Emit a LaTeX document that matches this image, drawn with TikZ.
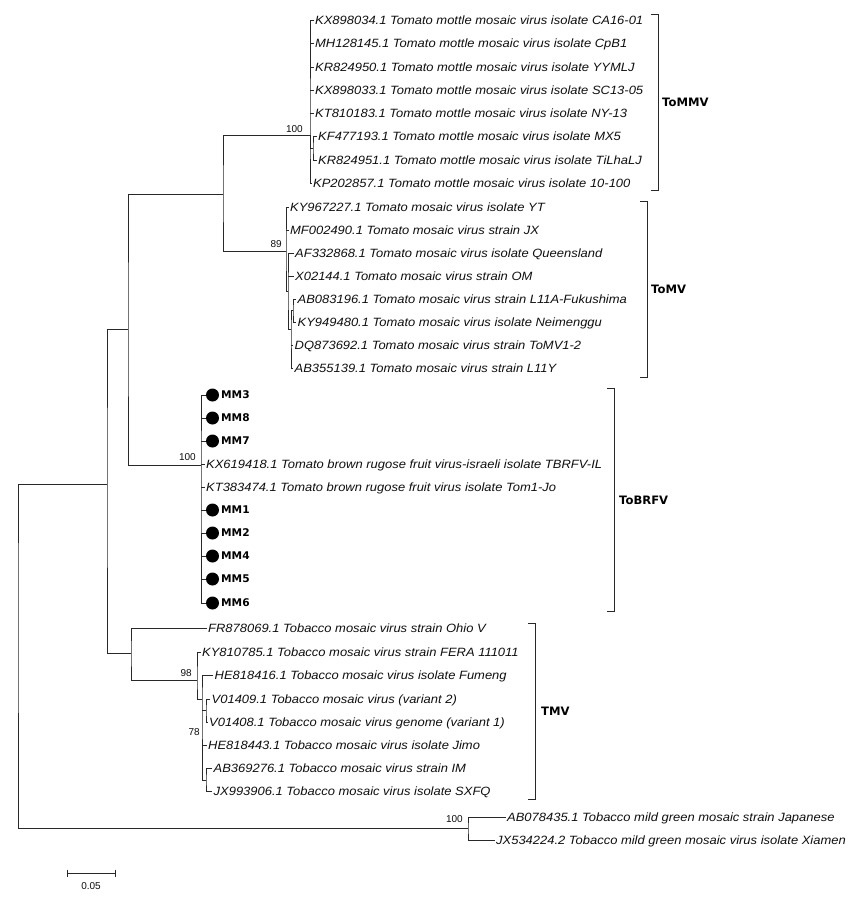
\documentclass[tikz,border=0pt]{standalone}
\usepackage{fontspec}
\setmainfont{Liberation Sans}
\newfontfamily\leaffont{Liberation Sans}[FakeStretch=1.08]
\newfontfamily\vfont{DejaVu Sans}
\definecolor{ln}{RGB}{40,40,40}
\definecolor{tx}{RGB}{15,15,15}
\tikzset{
  br/.style={draw=ln, line width=0.85pt},
  leaf/.style={anchor=west, inner xsep=1.5pt, inner ysep=0pt, text height=8.5pt, text depth=0pt, font=\leaffont\fontsize{12}{14}\selectfont\itshape, text=tx},
  mmdot/.style={circle, fill=black, minimum size=13pt, inner sep=0pt},
  mmlab/.style={anchor=west, inner xsep=0pt, inner ysep=0pt, text height=7.6pt, text depth=0pt, font=\vfont\bfseries\fontsize{10.6}{12}\selectfont, text=black},
  boot/.style={anchor=east, inner sep=0pt, text height=7.2pt, text depth=0pt, font=\fontsize{10}{12}\selectfont, text=tx},
  clade/.style={anchor=west, inner sep=0pt, text height=8.3pt, text depth=0pt, font=\vfont\bfseries\fontsize{11.6}{13}\selectfont, text=black},
  bracket/.style={draw=ln, line width=0.85pt}
}
\begin{document}
\begin{tikzpicture}[x=1pt,y=-1pt]
\useasboundingbox[fill=white] (0,0) rectangle (861,898);

% ---------- internal nodes ----------
\coordinate (R) at (18,600);
\coordinate (n107) at (107,484);
\coordinate (n128) at (128,329);
\coordinate (n223) at (223,194);
\coordinate (mmv) at (310,135);
\coordinate (mmvs) at (313,148);
\coordinate (n89) at (286,251);
\coordinate (tA) at (288,291);
\coordinate (tB) at (291,329);
\coordinate (tC) at (293,310);
\coordinate (brf) at (201,465);
\coordinate (tmv) at (131,653);
\coordinate (n98) at (197,680);
\coordinate (n78) at (202,699);
\coordinate (sV) at (206,710);
\coordinate (sAB) at (206,780);
\coordinate (tmg) at (468,828);

% ---------- ToMMV leaves ----------
\node[leaf] (k1) at (313.5,20) {KX898034.1 Tomato mottle mosaic virus isolate CA16-01};
\node[leaf] (k2) at (313.5,43) {MH128145.1 Tomato mottle mosaic virus isolate CpB1};
\node[leaf] (k3) at (313.5,67) {KR824950.1 Tomato mottle mosaic virus isolate YYMLJ};
\node[leaf] (k4) at (313.5,90) {KX898033.1 Tomato mottle mosaic virus isolate SC13-05};
\node[leaf] (k5) at (313.5,113) {KT810183.1 Tomato mottle mosaic virus isolate NY-13};
\node[leaf] (k6) at (316.5,136) {KF477193.1 Tomato mottle mosaic virus isolate MX5};
\node[leaf] (k7) at (316.5,160) {KR824951.1 Tomato mottle mosaic virus isolate TiLhaLJ};
\node[leaf] (k8) at (311.5,183) {KP202857.1 Tomato mottle mosaic virus isolate 10-100};

% ---------- ToMV leaves ----------
\node[leaf] (t1) at (288.5,207) {KY967227.1 Tomato mosaic virus isolate YT};
\node[leaf] (t2) at (288.5,230) {MF002490.1 Tomato mosaic virus strain JX};
\node[leaf] (t3) at (293.5,253) {AF332868.1 Tomato mosaic virus isolate Queensland};
\node[leaf] (t4) at (293.5,276) {X02144.1 Tomato mosaic virus strain OM};
\node[leaf] (t5) at (296,299) {AB083196.1 Tomato mosaic virus strain L11A-Fukushima};
\node[leaf] (t6) at (296,322) {KY949480.1 Tomato mosaic virus isolate Neimenggu};
\node[leaf] (t7) at (293,345) {DQ873692.1 Tomato mosaic virus strain ToMV1-2};
\node[leaf] (t8) at (293,368) {AB355139.1 Tomato mosaic virus strain L11Y};

% ---------- ToBRFV leaves ----------
\node[mmdot] (m3) at (212.5,395) {};
\node[mmdot] (m8) at (212.5,418) {};
\node[mmdot] (m7) at (212.5,441) {};
\node[leaf] (kx) at (204.5,464) {KX619418.1 Tomato brown rugose fruit virus-israeli isolate TBRFV-IL};
\node[leaf] (kt) at (204.5,487) {KT383474.1 Tomato brown rugose fruit virus isolate Tom1-Jo};
\node[mmdot] (m1) at (212.5,510) {};
\node[mmdot] (m2) at (212.5,533) {};
\node[mmdot] (m4) at (212.5,556) {};
\node[mmdot] (m5) at (212.5,579) {};
\node[mmdot] (m6) at (212.5,603) {};
\node[mmlab] (l3) at (221,395) {MM3};
\node[mmlab] (l8) at (221,418) {MM8};
\node[mmlab] (l7) at (221,441) {MM7};
\node[mmlab] (l1) at (221,510) {MM1};
\node[mmlab] (l2) at (221,533) {MM2};
\node[mmlab] (l4) at (221,556) {MM4};
\node[mmlab] (l5) at (221,579) {MM5};
\node[mmlab] (l6) at (221,603) {MM6};

% ---------- TMV leaves ----------
\node[leaf] (s1) at (206.5,628) {FR878069.1 Tobacco mosaic virus strain Ohio V};
\node[leaf] (s2) at (200.5,652) {KY810785.1 Tobacco mosaic virus strain FERA 111011};
\node[leaf] (s3) at (213,675) {HE818416.1 Tobacco mosaic virus isolate Fumeng};
\node[leaf] (s4) at (210,699) {V01409.1 Tobacco mosaic virus (variant 2)};
\node[leaf] (s5) at (207.5,722) {V01408.1 Tobacco mosaic virus genome (variant 1)};
\node[leaf] (s6) at (206.5,745) {HE818443.1 Tobacco mosaic virus isolate Jimo};
\node[leaf] (s7) at (212,768) {AB369276.1 Tobacco mosaic virus strain IM};
\node[leaf] (s8) at (212,791) {JX993906.1 Tobacco mosaic virus isolate SXFQ};

% ---------- TMGMV leaves ----------
\node[leaf] (g1) at (505.5,817) {AB078435.1 Tobacco mild green mosaic strain Japanese};
\node[leaf] (g2) at (494.5,840) {JX534224.2 Tobacco mild green mosaic virus isolate Xiamen};

% ---------- branches ----------
\draw[br] (n107) -| (R) |- (tmg);
\draw[br] (n128) -| (n107) |- (tmv);
\draw[br] (n223) -| (n128) |- (brf);
\draw[br] (mmv) -| (n223) |- (n89);
% ToMMV
\draw[br] (k1.west) -| (mmv) |- (k8.west);
\foreach \k in {k2,k3,k4,k5} \draw[br] (mmv |- \k.west) -- (\k.west);
\draw[br] (k6.west) -| (mmvs) |- (k7.west);
\draw[br] (mmv) -- (mmv |- mmvs) -- (mmvs);
% ToMV
\draw[br] (t1.west) -| (n89) |- (tA);
\draw[br] (n89 |- t2.west) -- (t2.west);
\draw[br] (t3.west) -| (tA) |- (tB);
\draw[br] (tA |- t4.west) -- (t4.west);
\draw[br] (tC) -| (tB) |- (t8.west);
\draw[br] (tB |- t7.west) -- (t7.west);
\draw[br] (t5.west) -| (tC) |- (t6.west);
% ToBRFV
\draw[br] (m3.west) -| (brf) |- (m6.west);
\foreach \k in {m8,m7,kx,kt,m1,m2,m4,m5} \draw[br] (brf |- \k.west) -- (\k.west);
% TMV
\draw[br] (s1.west) -| (tmv) |- (n98);
\draw[br] (s2.west) -| (n98) |- (n78);
\draw[br] (s3.west) -| (n78) |- (sAB);
\draw[br] (n78 |- sV) -- (sV);
\draw[br] (n78 |- s6.west) -- (s6.west);
\draw[br] (s4.west) -| (sV) |- (s5.west);
\draw[br] (s7.west) -| (sAB) |- (s8.west);
% TMGMV
\draw[br] (g1.west) -| (tmg) |- (g2.west);

% ---------- bootstrap values ----------
\node[boot] (b1) at (303,129) {100};
\node[boot] (b2) at (282,244) {89};
\node[boot] (b3) at (196,457) {100};
\node[boot] (b4) at (192,673) {98};
\node[boot] (b5) at (200,732) {78};
\node[boot] (b6) at (463,819) {100};

% ---------- clade brackets ----------
\coordinate (c1t) at (658,14);  \coordinate (c1b) at (658,190);
\coordinate (c2t) at (647,201); \coordinate (c2b) at (647,377);
\coordinate (c3t) at (614,388); \coordinate (c3b) at (614,611);
\coordinate (c4t) at (535,623); \coordinate (c4b) at (535,799);
\draw[bracket] ([xshift=-7pt]c1t) -- (c1t) -- (c1b) -- ([xshift=-7pt]c1b);
\draw[bracket] ([xshift=-7pt]c2t) -- (c2t) -- (c2b) -- ([xshift=-7pt]c2b);
\draw[bracket] ([xshift=-7pt]c3t) -- (c3t) -- (c3b) -- ([xshift=-7pt]c3b);
\draw[bracket] ([xshift=-7pt]c4t) -- (c4t) -- (c4b) -- ([xshift=-7pt]c4b);
\node[clade] (cl1) at (662,102) {ToMMV};
\node[clade] (cl2) at (651,289) {ToMV};
\node[clade] (cl3) at (619,500) {ToBRFV};
\node[clade] (cl4) at (541,711) {TMV};

% ---------- scale bar ----------
\coordinate (sb1) at (67,873);
\coordinate (sb2) at (115,873);
\draw[br] (sb1) -- (sb2);
\draw[br] ([yshift=3.5pt]sb1) -- ([yshift=-3.5pt]sb1);
\draw[br] ([yshift=3.5pt]sb2) -- ([yshift=-3.5pt]sb2);
\node[inner sep=0pt, text height=7.2pt, text depth=0pt, font=\fontsize{10}{12}\selectfont, text=tx] (sbl) at (91,886) {0.05};
\end{tikzpicture}
\end{document}
